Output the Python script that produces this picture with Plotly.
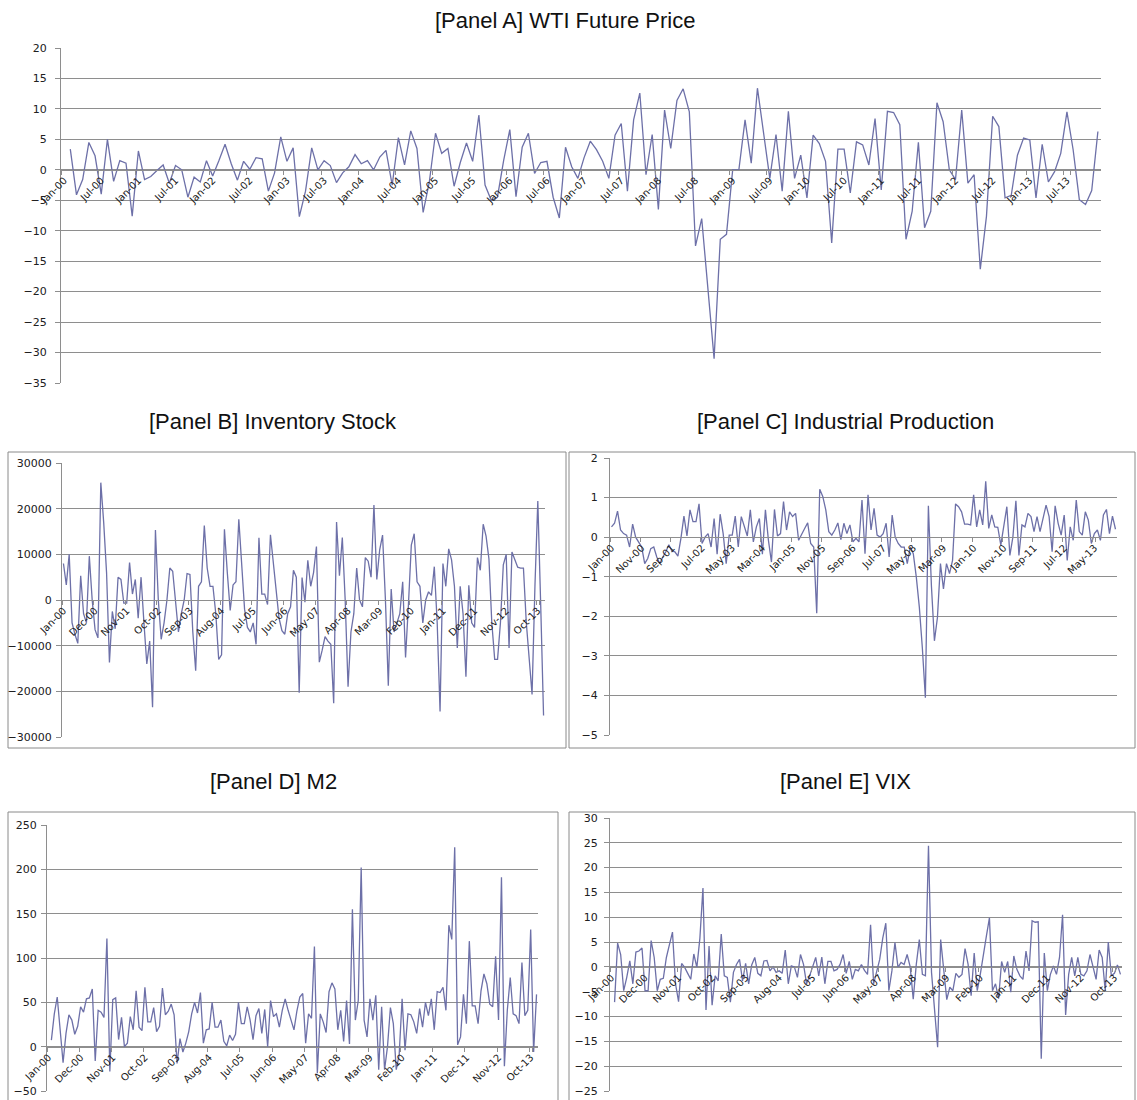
import plotly.graph_objects as go
import pandas as pd

W, H = 1137, 1100

# ---------------- data ----------------
months = list(pd.date_range("2000-01-01", periods=168, freq="MS").strftime("%b-%y"))

wti = [None,
       3.4, -4.1, -1.6, 4.5, 2.3, -4.0, 5.0, -1.9, 1.5, 1.1,
       -7.6, 3.1, -1.6, -1.1, -0.1, 0.8, -2.2, 0.7, 0.0, -4.5,
       -1.2, -2.0, 1.5, -1.0, 1.5, 4.2, 1.0, -1.7, 1.4, 0.1,
       2.0, 1.8, -3.5, -0.5, 5.4, 1.4, 3.6, -7.7, -3.5, 3.6,
       0.0, 1.5, 0.7, -2.1, -0.5, 0.5, 2.5, 1.0, 1.5, 0.0,
       2.1, 3.2, -2.5, 5.3, 0.8, 6.4, 3.5, -7.0, -2.0, 6.0,
       2.7, 3.5, -2.7, 1.2, 4.4, 1.4, 9.0, -2.5, -5.0, -4.5,
       1.5, 6.6, -4.4, 3.7, 6.0, -0.6, 1.2, 1.4, -4.5, -7.9,
       3.7, 0.5, -1.4, 2.0, 4.7, 3.3, 1.4, -1.4, 5.7, 7.6,
       -3.5, 8.2, 12.6, -0.8, 5.8, -6.5, 9.8, 3.5, 11.4, 13.3,
       9.5, -12.5, -8.0, -20.0, -31.0, -11.4, -10.6, 0.0, 0.0, 8.2,
       1.1, 13.4, 6.0, -1.4, 5.8, -3.5, 9.6, -1.4, 2.4, -4.6,
       5.7, 4.3, 1.4, -12.0, 3.4, 3.4, -3.8, 4.6, 4.1, 0.8,
       8.4, -3.3, 9.6, 9.4, 7.4, -11.4, -6.8, 4.5, -9.5, -6.8,
       11.0, 7.9, 0.0, -1.6, 9.8, -2.2, -0.8, -16.3, -7.6, 8.8,
       7.1, -4.6, -4.2, 2.4, 5.2, 4.9, -4.6, 4.2, -2.0, -0.3,
       2.7, 9.5, 3.3, -4.9, -5.7, -3.4, 6.3]

inventory = [8000, 3300, 10000, -5000, -7500, -9500, 5300, -3000, -5000, 9600,
             0, -6500, -8300, 25700, 17000, 6000, -13700, -2500, -6300, 5000,
             4500, -700, -700, 8200, 1300, 4500, -4000, 5000, -5000, -14000,
             -9000, -23500, 15300, 0, -8600, -5000, 0, 7000, 6300, 0,
             -7000, -3000, 0, 5800, 5600, -7000, -15500, 3000, 4000, 16300,
             7000, 3000, 3000, -3000, -13000, -12000, 15500, 6000, -2300, 3300,
             4000, 17700, 7000, -2000, -6000, -7000, -5000, -9700, 13600, 1300,
             1300, -1000, 14300, 8000, 2000, -4000, -6700, -7500, -3000, -1500,
             6500, 5000, -20300, 4900, -500, 8700, 3000, 6000, 11700, -13600,
             -11000, -8000, -9000, -9700, -22600, 17100, 5300, 13700, 0, -19000,
             -7000, -3000, 7000, 0, -1500, 9300, 8500, 5000, 20800, 4500,
             11000, 14200, 0, -18800, 2400, -7000, -5000, -3000, 4000, -12600,
             -1000, 12000, 14500, 4000, 3000, -5000, 0, 1800, 1000, 7300,
             -5000, -24400, 8000, 3000, 11200, 8800, 3000, -10500, 3000, -3000,
             -16800, 3200, -5000, -6000, 9300, 6500, 16600, 14000, 9000, -5000,
             -13000, -13000, -5000, 7700, 10000, -10500, 10500, 9000, 7200, 7000,
             7000, -5000, -13000, -20700, 3000, 21700, -1000, -25300]

industrial = [0.26, 0.35, 0.66, 0.18, 0.09, 0.05, -0.25, 0.33, 0.0, -0.12,
              -0.25, -0.67, -0.54, -0.29, -0.25, -0.5, -0.67, -0.5, -0.37, -0.19,
              -0.35, -0.37, -0.48, -0.03, 0.53, 0.03, 0.69, 0.39, 0.39, 0.84,
              -0.16, 0.0, 0.09, -0.25, 0.47, -0.43, 0.58, 0.09, -0.67, 0.05,
              0.05, 0.53, -0.25, 0.52, 0.26, 0.03, 0.69, -0.12, 0.26, 0.47,
              -0.43, 0.69, -0.08, -0.63, 0.70, 0.03, 0.09, 0.90, 0.18, 0.64,
              0.52, 0.60, -0.08, 0.09, 0.22, 0.36, -0.16, -0.25, -1.92, 1.21,
              1.03, 0.69, 0.14, 0.05, 0.18, 0.36, -0.06, 0.35, 0.09, 0.31,
              -0.12, -0.03, -0.12, 0.94, -0.42, 1.07, 0.18, 0.73, 0.05, 0.0,
              0.09, 0.35, -0.5, 0.56, 0.0, -0.16, -0.25, -0.25, -0.67, -0.25,
              -0.42, -1.01, -1.77, -2.8, -4.06, 0.79, -1.22, -2.62, -2.03, -0.67,
              -1.31, -0.67, -0.92, -0.59, 0.84, 0.77, 0.64, 0.33, 0.33, 0.31,
              1.07, 0.26, 0.69, 0.31, 1.41, 0.22, 0.56, 0.26, 0.25, -0.2,
              0.26, 0.77, -0.46, 0.0, 0.92, -0.46, 0.31, 0.26, 0.60, 0.52,
              0.14, 0.52, 0.14, 0.47, 0.81, 0.52, -0.37, 0.79, 0.35, 0.05,
              0.56, -0.59, 0.26, -0.08, 0.94, 0.14, 0.05, 0.64, 0.43, -0.16,
              0.09, 0.18, -0.08, 0.56, 0.70, 0.09, 0.53, 0.2]

m2 = [None, 7.4, 37, 56, 20, -18, 15, 36, 30, 14,
      23, 45, 39, 54, 55, 65, -16, 41, 39, 33,
      122, -28, 53, 55, 8, 33, 0, 4, 34, 19,
      63, 22, 18, 67, 28, 28, 44, 17, 23, 66,
      36, 40, 48, 36, -19, 9, -6, 4, 17, 37,
      50, 38, 61, 4, 19, 20, 50, 22, 22, 30,
      6, 1, 13, 7, 14, 50, 26, 26, 45, 30,
      8, 35, 43, 15, 42, 0, 52, 34, 37, 22,
      41, 54, 41, 30, 19, 40, 56, 60, 4, 37,
      32, 113, -30, 37, 28, 16, 62, 72, 65, 19,
      41, 6, 52, 3, 155, 30, 52, 202, 30, 11,
      54, 30, 58, -26, 45, -26, 0, 44, 26, -26,
      -9, 54, -4, 37, 36, 28, 15, 43, 22, 50,
      35, 54, 19, 62, 61, 67, 41, 137, 121, 225,
      2, 11, 59, 26, 119, 46, 46, 26, 63, 82,
      71, 48, 45, 102, 30, 191, -22, 41, 78, 37,
      35, 26, 95, 35, 41, 132, -6, 59]

vix = [None, -7.1, 4.8, 2.5, -4.8, -2.1, 1.2, -3.4, 3.0, 3.2, 3.8,
       -4.8, -4.8, 5.3, 1.9, -4.8, -2.5, -2.3, 1.9, 4.5, 7.0,
       -3.4, -7.0, 0.7, -0.1, -1.3, -2.5, 2.6, -0.1, 5.8, 15.9,
       -8.7, 4.2, -7.7, -1.8, -2.8, 6.6, -1.8, -2.1, -7.1, -1.1,
       0.5, 1.5, -2.8, 0.7, -3.4, 0.4, 1.9, -1.3, -1.8, 1.2,
       1.3, -0.8, 0.0, -1.1, -0.8, -1.3, 3.4, -3.4, 0.2, 0.0,
       -2.1, 2.5, 0.5, -3.4, -1.8, -0.1, 1.9, -1.8, 2.0, -3.4,
       1.1, 1.1, -0.8, -0.5, 0.5, 2.5, -1.3, 1.1, -2.5, -0.5,
       -0.8, 0.5, -0.7, -1.5, 8.5, -3.4, -0.8, 1.5, 5.8, 8.8,
       -4.8, -0.8, 4.9, -0.1, 0.9, 0.5, 2.5, 0.0, -6.5, 0.5,
       5.5, -1.5, -1.8, 24.4, -1.1, -8.0, -16.2, 5.5, -0.8, -6.6,
       -4.1, -4.8, -1.3, -2.1, -1.5, 3.7, 0.5, -5.8, 2.8, -4.8,
       -1.5, 2.8, 6.2, 9.9, -4.8, -3.4, -6.4, 1.1, -1.1, 1.1,
       -5.1, 2.2, -0.5, -1.8, -2.5, 3.2, -0.8, 9.3, 9.0, 9.1,
       -18.5, 2.8, -4.8, -1.5, 0.2, -1.5, 1.9, 10.5, -9.7, -1.5,
       1.9, -1.8, 1.9, -1.5, -1.8, -0.8, 2.5, 0.0, -2.5, 3.4,
       1.9, -4.8, 5.0, -1.8, -1.3, 0.4, -1.5]

titles = ["[Panel A] WTI Future Price", "[Panel B] Inventory Stock",
          "[Panel C] Industrial Production", "[Panel D] M2", "[Panel E] VIX"]
series = [wti, inventory, industrial, m2, vix]
label_step = [6, 11, 10, 11, 11]
y_ranges = [(-35, 20), (-30000, 30000), (-5, 2), (-50, 250), (-25, 30)]
y_dticks = [5, 10000, 1, 50, 5]

# ---------------- layout (pixel boxes) ----------------
plot_boxes = [  # x0, x1, ytop, ybottom in pixels
    (61, 1101, 48, 383),
    (62, 545, 463, 737),
    (610, 1117, 458, 735),
    (47, 538, 825, 1091),
    (610, 1122, 818, 1091),
]
ylabel_standoff = [6, 2, 4, 2, 4]
title_pos = [(565, 20), (273, 421), (845, 421), (273, 781), (845, 781)]
frames = [None, (8, 566, 452, 748), (569, 1135, 452, 748),
          (8, 558, 812, 1120), (569, 1135, 812, 1120)]

LINE = "#6d70a8"
GRID = "#8e8e8e"
TXT = "#202020"
XTICKFONT = dict(family="DejaVu Sans, Verdana, sans-serif", size=10, color=TXT)
YTICKFONT = dict(family="DejaVu Sans, Verdana, sans-serif", size=11, color=TXT)
TITLEFONT = dict(family="Liberation Sans, Arial, sans-serif", size=22, color="#111111")


def px(x):
    return x / W


def py(y):
    return 1 - y / H


fig = go.Figure()
layout = dict(width=W, height=H,
              margin=dict(l=0, r=0, t=0, b=0, pad=0, autoexpand=False),
              paper_bgcolor="white", plot_bgcolor="white", showlegend=False)
annotations = []
shapes = []

for k in range(5):
    n = k + 1
    xa = "x" if n == 1 else f"x{n}"
    ya = "y" if n == 1 else f"y{n}"
    x0, x1, yt, yb = plot_boxes[k]
    lo, hi = y_ranges[k]
    dom_y = [py(yb), py(yt)]
    zero_pos = dom_y[0] + (0 - lo) / (hi - lo) * (dom_y[1] - dom_y[0])

    fig.add_trace(go.Scatter(x=months, y=series[k], mode="lines",
                             line=dict(color=LINE, width=1.3),
                             connectgaps=False, hoverinfo="skip",
                             xaxis=xa, yaxis=ya))

    step = label_step[k]
    layout["xaxis" if n == 1 else f"xaxis{n}"] = dict(
        type="category", categoryorder="array", categoryarray=months,
        range=[-0.5, len(months) - 0.5], domain=[px(x0), px(x1)],
        anchor="free", position=zero_pos, automargin=False,
        showline=True, linecolor=GRID, linewidth=1,
        showgrid=False, zeroline=False,
        tickmode="array", tickvals=months[::step], ticktext=months[::step],
        tickangle=-45, tickfont=XTICKFONT, ticklabeloverflow="allow",
        ticks="outside", ticklen=4, tickcolor=GRID, tickson="boundaries")
    layout["yaxis" if n == 1 else f"yaxis{n}"] = dict(
        domain=dom_y, anchor=xa, range=[lo, hi], dtick=y_dticks[k], tick0=lo,
        automargin=False,
        showgrid=True, gridcolor=GRID, gridwidth=1,
        showline=True, linecolor=GRID, linewidth=1,
        zeroline=False, ticks="outside", ticklen=5, tickcolor=GRID,
        ticklabelstandoff=ylabel_standoff[k], ticklabeloverflow="allow",
        tickformat="d", tickfont=YTICKFONT)

    tx, ty = title_pos[k]
    annotations.append(dict(text=titles[k], x=px(tx), y=py(ty), xref="paper", yref="paper",
                            xanchor="center", yanchor="middle", showarrow=False,
                            font=TITLEFONT))
    if frames[k] is not None:
        fx0, fx1, fyt, fyb = frames[k]
        shapes.append(dict(type="rect", xref="paper", yref="paper",
                           x0=px(fx0), x1=px(fx1), y0=py(fyb), y1=py(fyt),
                           line=dict(color="#8a8a8a", width=1), layer="below"))

layout["annotations"] = annotations
layout["shapes"] = shapes
fig.update_layout(**layout)
fig.write_html("out.html", config={"displayModeBar": False},
               post_script="document.body.style.margin='0';"
                           "document.body.style.overflow='hidden';")
